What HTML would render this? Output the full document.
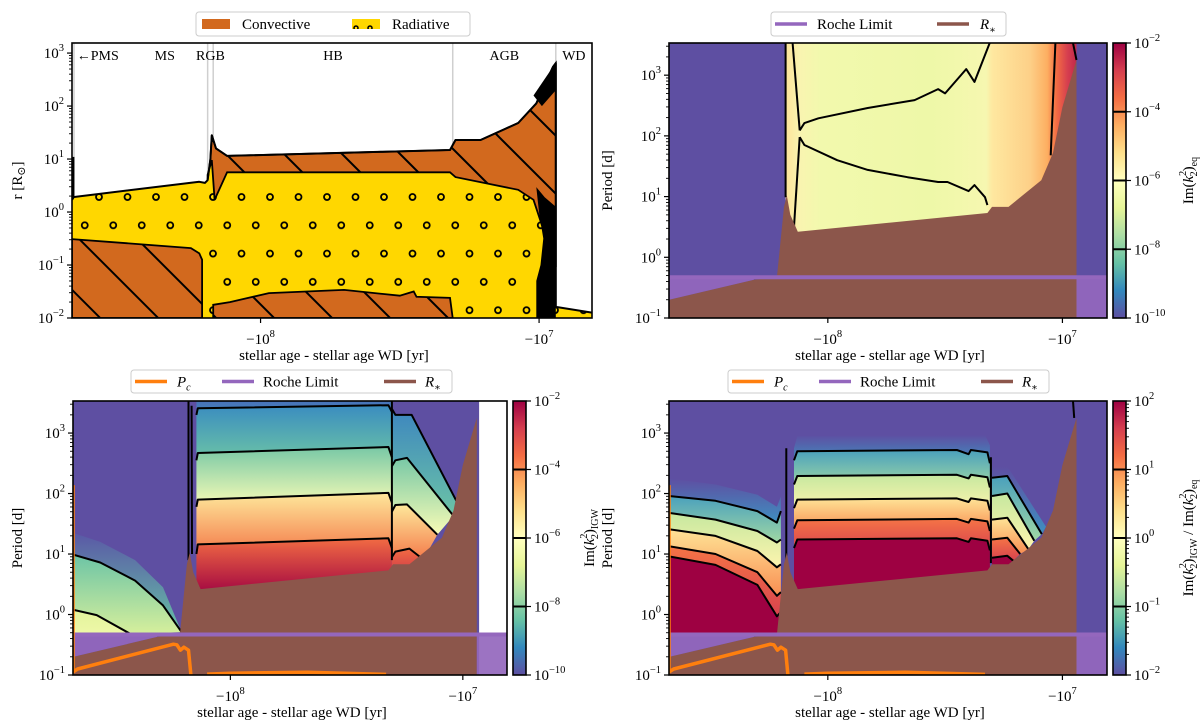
<!DOCTYPE html>
<html><head><meta charset="utf-8">
<style>
html,body{margin:0;padding:0;background:#fff;}
svg{display:block;font-family:"Liberation Serif","DejaVu Serif",serif;}
</style></head>
<body>
<svg id="fig" width="1200" height="727" viewBox="0 0 1200 727" xmlns="http://www.w3.org/2000/svg">
<defs id="defs">
  <pattern id="hatch" width="41" height="41" patternUnits="userSpaceOnUse" patternTransform="rotate(-45)">
    <line x1="10" y1="-5" x2="10" y2="46" stroke="#000" stroke-width="2"/>
  </pattern>
  <pattern id="dots" x="92" y="190" width="28.5" height="56.6" patternUnits="userSpaceOnUse">
    <circle cx="7" cy="7" r="3" fill="none" stroke="#000" stroke-width="1.8"/>
    <circle cx="21.25" cy="35.3" r="3" fill="none" stroke="#000" stroke-width="1.8"/>
  </pattern>
  <pattern id="dotsLeg" x="352" y="15" width="14" height="14" patternUnits="userSpaceOnUse">
    <circle cx="4" cy="13" r="2" fill="none" stroke="#000" stroke-width="1.5"/>
  </pattern>
  <linearGradient id="spectral" x1="0" y1="1" x2="0" y2="0">
    <stop offset="0" stop-color="#5e4fa2"/><stop offset="0.1" stop-color="#3288bd"/>
    <stop offset="0.2" stop-color="#66c2a5"/><stop offset="0.3" stop-color="#abdda4"/>
    <stop offset="0.4" stop-color="#e6f598"/><stop offset="0.5" stop-color="#ffffbf"/>
    <stop offset="0.6" stop-color="#fee08b"/><stop offset="0.7" stop-color="#fdae61"/>
    <stop offset="0.8" stop-color="#f46d43"/><stop offset="0.9" stop-color="#d53e4f"/>
    <stop offset="1" stop-color="#9e0142"/>
  </linearGradient>
  <linearGradient id="trGrad" x1="0" y1="0" x2="1" y2="0">
    <stop offset="0" stop-color="#fde49a"/><stop offset="0.05" stop-color="#f9f4b0"/>
    <stop offset="0.12" stop-color="#f2f9ad"/><stop offset="0.5" stop-color="#eef8a8"/>
    <stop offset="0.69" stop-color="#f6f7b0"/><stop offset="0.71" stop-color="#fee8a0"/>
    <stop offset="0.84" stop-color="#fdd088"/><stop offset="0.9" stop-color="#fdae61"/>
    <stop offset="0.93" stop-color="#f46d43"/><stop offset="0.97" stop-color="#d53e4f"/>
    <stop offset="1" stop-color="#c2294a"/>
  </linearGradient>
</defs>
</svg>
<script>
// ---------- data (x = log10 |age - age_WD| [yr], y = log10 value) ----------
const U_L = 8.677, U_R = 6.81;
const X_TICKS = [8, 7];
const X_TICK_LABELS = ['8', '7'];
const ROCHE = -0.33;
const WD_U = 6.94;
// top-left: radius structure
const TL_SURFACE = [[8.677,0.28],[8.22,0.57],[8.20,0.55],[8.19,0.6],[8.18,1.0],[8.175,1.45],[8.16,1.2],[8.12,1.06],[7.32,1.17],[7.30,1.36],[7.21,1.36],[7.075,1.68],[7.01,2.05],[6.95,2.74],[6.94,2.81],[6.94,-1.79],[6.81,-1.9]];
const TL_ENV_BASE = [[6.94,-1.04],[7.02,0.23],[7.075,0.42],[7.30,0.66],[7.32,0.75],[8.12,0.75],[8.165,0.23],[8.175,0.98],[8.19,0.7]];
const TL_CORE_MS = [[8.677,-0.51],[8.25,-0.68],[8.22,-0.78],[8.21,-0.9],[8.21,-2],[8.677,-2]];
const TL_CORE_HB = [[8.17,-2],[8.17,-1.75],[8.11,-1.70],[7.97,-1.53],[7.70,-1.47],[7.50,-1.58],[7.45,-1.5],[7.44,-1.6],[7.32,-1.62],[7.31,-2]];
const TL_BLACK1 = [[7.01,0.47],[6.98,0.28],[6.94,0.1],[6.94,-2],[7.01,-2],[7.01,-1.3],[6.995,-1.0],[6.985,-0.5],[7.0,-0.02]];
const TL_BLACK2 = [[7.02,2.2],[6.95,2.74],[6.94,2.81],[6.94,2.3],[6.99,2.0]];
const PHASE_BOUNDS = [8.19, 8.17, 7.31, 6.94];
const PHASE_NAMES = ['←PMS','MS','RGB','HB','AGB','WD'];
const PHASE_POS = [8.66, 8.344, 8.18, 7.74, 7.125, 6.875];
// shared period panels
const R_STAR = [[8.677,-0.70],[8.315,-0.37],[8.217,-0.33],[8.187,0.83],[8.175,1.02],[8.16,0.70],[8.128,0.42],[7.32,0.73],[7.30,0.83],[7.23,0.83],[7.09,1.27],[7.04,1.72],[7.00,2.47],[6.94,3.25],[6.94,-1]];
const PC_A = [[8.677,2.14],[8.677,-0.95],[8.657,-0.90],[8.245,-0.49],[8.23,-0.50],[8.215,-0.59],[8.20,-0.54],[8.18,-0.59],[8.17,-1.0]];
const PC_B = [[8.1,-0.985],[8.0,-0.97],[7.67,-0.955],[7.33,-0.99]];
// top-right contours
const TR_A = [[8.12,2.09],[8.10,2.21],[8.04,2.29],[7.83,2.46],[7.63,2.59],[7.53,2.77],[7.50,2.70],[7.41,3.10],[7.375,2.89],[7.31,3.53]];
const TR_B = [[8.12,1.98],[8.10,1.85],[7.96,1.60],[7.83,1.44],[7.66,1.32],[7.53,1.24],[7.49,1.24],[7.40,1.09],[7.375,1.19],[7.33,0.99],[7.32,0.86]];
const TR_C1 = [[8.18,3.53],[8.18,0.99]];
const TR_C2 = [[8.15,3.53],[8.12,2.09]];
const TR_C3 = [[8.12,1.98],[8.145,0.45]];
const TR_D1 = [[7.03,3.53],[7.05,1.68]];
const TR_D2 = [[6.955,3.53],[6.94,3.25]];
// bottom-left contours
const BL_LEFT_TOP = [[8.677,1.35],[8.56,1.2],[8.41,0.9],[8.29,0.45],[8.21,-0.29]];
const BL_LEFT_C1 = [[8.677,0.99],[8.56,0.86],[8.41,0.56],[8.29,0.15],[8.21,-0.29]];
const BL_LEFT_C2 = [[8.677,0.08],[8.575,-0.01],[8.43,-0.32]];
const BL_LEFT_BOT = [[8.677,-0.33],[8.21,-0.33]];
const BL_MID_TOP = [[8.146,3.53],[7.305,3.53]];
const BL_M1 = [[8.146,3.3],[8.14,3.41],[7.32,3.46],[7.305,3.35]];
const BL_M2 = [[8.146,2.55],[8.14,2.67],[7.32,2.77],[7.305,2.6]];
const BL_M3 = [[8.146,1.78],[8.14,1.90],[7.32,2.01],[7.305,1.85]];
const BL_M4 = [[8.146,1.0],[8.14,1.16],[7.32,1.26],[7.305,1.1]];
const BL_MID_BOT = [[8.146,0.3],[7.305,0.3]];
const BL_AGB_TOP = [[7.305,3.40],[7.29,3.30],[7.22,3.30],[7.02,1.82]];
const BL_N1 = [[7.305,2.45],[7.29,2.55],[7.24,2.59],[7.04,1.63]];
const BL_N2 = [[7.305,1.7],[7.29,1.81],[7.24,1.82],[7.11,1.32]];
const BL_N3 = [[7.305,0.95],[7.29,1.04],[7.23,1.09],[7.17,0.91]];
const BL_AGB_BOT = [[7.305,0.5],[7.17,0.5]];
// bottom-right contours
const BR_L_TOP = [[8.677,2.25],[8.479,2.15],[8.30,1.98],[8.217,1.78],[8.20,1.95]];
const BR_L1 = [[8.677,1.96],[8.479,1.88],[8.30,1.71],[8.217,1.52],[8.20,1.71]];
const BR_L2 = [[8.677,1.68],[8.479,1.57],[8.30,1.38],[8.217,1.19],[8.20,1.24]];
const BR_L3 = [[8.677,1.41],[8.479,1.30],[8.30,1.05],[8.217,0.78],[8.20,0.83]];
const BR_L4 = [[8.677,1.13],[8.479,1.0],[8.30,0.70],[8.217,0.31],[8.20,0.37]];
const BR_L5 = [[8.677,0.96],[8.479,0.82],[8.30,0.49],[8.217,-0.03],[8.20,0.04]];
const BR_L_BOT = [[8.677,-0.33],[8.20,-0.33]];
const BR_M_TOP = [[8.144,2.75],[8.13,2.95],[7.33,2.97],[7.309,2.8]];
const BR_M1 = [[8.144,2.55],[8.13,2.70],[7.45,2.72],[7.40,2.65],[7.39,2.72],[7.32,2.68],[7.309,2.5]];
const BR_M2 = [[8.144,2.15],[8.13,2.29],[7.45,2.31],[7.40,2.25],[7.39,2.31],[7.32,2.27],[7.309,2.1]];
const BR_M3 = [[8.144,1.76],[8.13,1.90],[7.45,1.92],[7.40,1.86],[7.39,1.92],[7.32,1.88],[7.309,1.72]];
const BR_M4 = [[8.144,1.42],[8.13,1.56],[7.45,1.58],[7.40,1.52],[7.39,1.58],[7.32,1.54],[7.309,1.38]];
const BR_M5 = [[8.144,1.10],[8.13,1.24],[7.45,1.26],[7.40,1.20],[7.39,1.26],[7.32,1.22],[7.309,1.06]];
const BR_M_BOT = [[8.144,0.3],[7.309,0.3]];
const BR_A_TOP = [[7.30,2.45],[7.235,2.45],[7.07,1.45]];
const BR_N1 = [[7.30,2.26],[7.235,2.29],[7.088,1.33]];
const BR_N2 = [[7.30,1.96],[7.235,2.0],[7.12,1.22]];
const BR_N3 = [[7.30,1.57],[7.235,1.60],[7.145,1.08]];
const BR_N4 = [[7.30,1.24],[7.235,1.27],[7.18,1.0]];
const BR_N5 = [[7.30,0.94],[7.235,0.97],[7.21,0.89]];
const BR_A_BOT = [[7.30,0.5],[7.21,0.5]];
// colorbars
const CB_TR_EXP = [-2,-4,-6,-8,-10];
const CB_BL_EXP = [-2,-4,-6,-8,-10];
const CB_BR_EXP = [2,1,0,-1,-2];

// ---------- helpers ----------
const NS = 'http://www.w3.org/2000/svg';
const svg = document.getElementById('fig');
const defs = document.getElementById('defs');
function mk(tag, attrs, parent) {
  const e = document.createElementNS(NS, tag);
  for (const k in attrs) e.setAttribute(k, attrs[k]);
  (parent || svg).appendChild(e);
  return e;
}
function sx(p, u) { return p.x0 + (U_L - u) / (U_L - U_R) * (p.x1 - p.x0); }
function sy(p, l) { return p.y0 + (p.yT - l) / (p.yT - p.yB) * (p.y1 - p.y0); }
function pts(p, arr) { return arr.map(a => sx(p, a[0]).toFixed(1) + ',' + sy(p, a[1]).toFixed(1)).join(' '); }
let gid = 0;
function vgrad(c1, c2) {
  const id = 'g' + (gid++);
  const g = mk('linearGradient', {id: id, x1: 0, y1: 0, x2: 0, y2: 1}, defs);
  mk('stop', {offset: 0, 'stop-color': c1}, g);
  mk('stop', {offset: 1, 'stop-color': c2}, g);
  return 'url(#' + id + ')';
}
function band(p, g, up, lo, c1, c2, name) {
  const e = mk('polygon', {points: pts(p, up.concat(lo.slice().reverse())), fill: vgrad(c1, c2)}, g);
  
  
  return e;
}
function pline(p, g, arr, color, w, name) {
  const e = mk('polyline', {points: pts(p, arr), fill: 'none', stroke: color, 'stroke-width': w, 'stroke-linejoin': 'round'}, g);
  
  
  return e;
}
function ppoly(p, g, arr, fill, name) {
  const e = mk('polygon', {points: pts(p, arr), fill: fill}, g);
  
  
  return e;
}
function powText(parent, x, y, exp, anchor, pre) {
  const t = mk('text', {x: x, y: y, 'font-size': 15, 'text-anchor': anchor, fill: '#000'}, parent);
  t.appendChild(document.createTextNode((pre || '') + '10'));
  const s = mk('tspan', {dy: -7, 'font-size': 10.5}, t);
  s.textContent = String(exp).replace('-', '−');
  return t;
}
function panelGroup(name) {
  const g = mk('g', {});
  
  
  return g;
}
function clipFor(p) {
  const id = 'c' + (gid++);
  const c = mk('clipPath', {id: id}, defs);
  mk('rect', {x: p.x0, y: p.y0, width: p.x1 - p.x0, height: p.y1 - p.y0}, c);
  return 'url(#' + id + ')';
}
function axes(p, g, ylabel) {
  const fr = mk('rect', {x: p.x0, y: p.y0, width: p.x1 - p.x0, height: p.y1 - p.y0, fill: 'none', stroke: '#000', 'stroke-width': 1.6}, g);
  
  
  const yt = mk('g', {}, g);
  
  
  for (let d = Math.ceil(p.yB); d <= Math.floor(p.yT); d++) {
    const y = sy(p, d);
    mk('line', {x1: p.x0 - 5, x2: p.x0, y1: y, y2: y, stroke: '#000', 'stroke-width': 1.2}, yt);
    powText(yt, p.x0 - 8, y + 5, d, 'end');
  }
  for (let d = Math.floor(p.yB); d <= Math.ceil(p.yT); d++) {
    for (let k = 2; k <= 9; k++) {
      const l = d + Math.log10(k);
      if (l <= p.yB || l >= p.yT) continue;
      const y = sy(p, l);
      mk('line', {x1: p.x0 - 3, x2: p.x0, y1: y, y2: y, stroke: '#000', 'stroke-width': 0.9}, yt);
    }
  }
  const xt = mk('g', {}, g);
  
  
  X_TICKS.forEach((u, i) => {
    const x = sx(p, u);
    mk('line', {x1: x, x2: x, y1: p.y1, y2: p.y1 + 5, stroke: '#000', 'stroke-width': 1.2}, xt);
    powText(xt, x, p.y1 + 26, X_TICK_LABELS[i], 'middle', '−');
  });
  const xl = mk('text', {x: (p.x0 + p.x1) / 2 + 2, y: p.y1 + 42, 'font-size': 15, 'text-anchor': 'middle'}, g);
  xl.textContent = 'stellar age - stellar age WD [yr]';
  
  
  const yl = mk('text', {x: 0, y: 0, 'font-size': 15, 'text-anchor': 'middle', transform: 'translate(' + p.ylx + ',' + ((p.y0 + p.y1) / 2) + ') rotate(-90)'}, g);
  yl.innerHTML = ylabel;
  
  
}
function colorbar(g, x, y0, y1, exps, minor, labelHtml, lx, name) {
  const cg = mk('g', {}, g);
  
  
  mk('rect', {x: x, y: y0, width: 13, height: y1 - y0, fill: 'url(#spectral)', stroke: '#000', 'stroke-width': 1.6}, cg);
  const n = exps.length - 1;
  exps.forEach((e, i) => {
    const y = y0 + i / n * (y1 - y0);
    if (i > 0 && i < n) mk('line', {x1: x, x2: x + 13, y1: y, y2: y, stroke: '#000', 'stroke-width': 2}, cg);
    mk('line', {x1: x + 13, x2: x + 18, y1: y, y2: y, stroke: '#000', 'stroke-width': 1.2}, cg);
    powText(cg, x + 21, y + 5, e, 'start');
    if (minor && i < n) {
      for (let k = 2; k <= 9; k++) {
        const yy = y + (1 - Math.log10(k)) / n * (y1 - y0);
        mk('line', {x1: x + 13, x2: x + 16, y1: yy, y2: yy, stroke: '#000', 'stroke-width': 0.9}, cg);
      }
    }
  });
  const t = mk('text', {x: 0, y: 0, 'font-size': 15, 'text-anchor': 'middle', transform: 'translate(' + lx + ',' + ((y0 + y1) / 2) + ') rotate(-90)'}, cg);
  t.innerHTML = labelHtml;
}
function legend(g, x, y, w, h, items, name) {
  const lg = mk('g', {}, g);
  
  
  mk('rect', {x: x, y: y, width: w, height: h, rx: 3, fill: '#fff', stroke: '#cccccc', 'stroke-width': 1}, lg);
  items.forEach(it => {
    if (it.patch) {
      mk('rect', {x: it.x, y: y + 7, width: 28, height: 10, fill: it.color}, lg);
      if (it.over) mk('rect', {x: it.x, y: y + 7, width: 28, height: 10, fill: it.over}, lg);
    } else {
      mk('line', {x1: it.x, x2: it.x + 32, y1: y + h / 2, y2: y + h / 2, stroke: it.color, 'stroke-width': 3.5}, lg);
    }
    const t = mk('text', {x: it.tx, y: y + h / 2 + 5, 'font-size': 15}, lg);
    t.innerHTML = it.label;
  });
}
const K2 = '<tspan>Im(</tspan><tspan font-style="italic">k</tspan><tspan font-size="10" dy="-7">2</tspan><tspan font-size="10" dx="-5.5" dy="11">2</tspan><tspan dy="-4">)</tspan>';
const RS = '<tspan font-style="italic">R</tspan><tspan font-size="10" dy="4">∗</tspan>';
const PCL = '<tspan font-style="italic">P</tspan><tspan font-size="10" font-style="italic" dy="4">c</tspan>';

function periodCommon(p, g) {
  ppoly(p, g, R_STAR.concat([[U_L, -1.1]]), '#8c564b', 'stellar-radius-fill');
  const leftP = [[U_L, ROCHE]].concat(R_STAR.filter(a => a[0] >= 8.315)).concat([[8.315, ROCHE]]);
  ppoly(p, g, leftP, '#9467bd', 'roche-fill-left').setAttribute('opacity', '0.92');
  ppoly(p, g, [[WD_U, ROCHE], [U_R, ROCHE], [U_R, -1.1], [WD_U, -1.1]], '#9467bd', 'roche-fill-right').setAttribute('opacity', '0.92');
  pline(p, g, [[U_L, ROCHE], [U_R, ROCHE]], '#9467bd', 4, 'roche-limit-line');
}

// ---------- panel: top-left ----------
(function () {
  const p = {x0: 72, x1: 592, y0: 43, y1: 318, yT: 3.19, yB: -2, ylx: 22};
  const g = panelGroup('structure-panel');
  const c = mk('g', {'clip-path': clipFor(p)}, g);
  PHASE_BOUNDS.forEach(u => {
    const e = mk('line', {x1: sx(p, u), x2: sx(p, u), y1: p.y0, y2: p.y1, stroke: '#cfcfcf', 'stroke-width': 1.5}, c);
    
    
  });
  mk('line', {x1: p.x0 + 2, x2: p.x0 + 2, y1: p.y0, y2: p.y1, stroke: '#cfcfcf', 'stroke-width': 1.5}, c);
  const surfPoly = TL_SURFACE.concat([[U_R, -2.1], [U_L, -2.1]]);
  ppoly(p, c, surfPoly, '#ffd700', 'radiative-zone');
  ppoly(p, c, surfPoly, 'url(#dots)', 'radiative-hatch');
  const env = TL_SURFACE.slice(3, 15).concat(TL_ENV_BASE);
  [[env, 'convective-envelope'], [TL_CORE_MS, 'convective-core-ms'], [TL_CORE_HB, 'convective-core-hb']].forEach(a => {
    ppoly(p, c, a[0], '#d2691e', a[1]);
    const h = ppoly(p, c, a[0], 'url(#hatch)', a[1] + '-hatch');
    h.setAttribute('stroke', '#000');
    h.setAttribute('stroke-width', '1.8');
  });
  ppoly(p, c, TL_BLACK1, '#000', 'thermal-pulse-region');
  ppoly(p, c, TL_BLACK2, '#000', 'thermal-pulse-envelope');
  pline(p, c, TL_SURFACE, '#000', 2, 'stellar-surface-line');
  pline(p, c, [[U_L - 0.005, 0.28], [U_L - 0.005, 1.04]], '#000', 2, 'pms-edge');
  PHASE_NAMES.forEach((nm, i) => {
    const t = mk('text', {x: sx(p, PHASE_POS[i]), y: 60, 'font-size': 14, 'text-anchor': i === 0 ? 'start' : 'middle'}, g);
    t.textContent = nm;
    
    
  });
  axes(p, g, 'r [R<tspan font-size="11" dy="3">⊙</tspan><tspan dy="-3">]</tspan>');
  legend(g, 196, 12, 274, 24, [
    {patch: true, x: 202, color: '#d2691e', tx: 242, label: 'Convective'},
    {patch: true, x: 352, color: '#ffd700', over: 'url(#dotsLeg)', tx: 392, label: 'Radiative'}], 'legend-structure');
})();

// ---------- panel: top-right ----------
(function () {
  const p = {x0: 669, x1: 1107, y0: 43, y1: 318, yT: 3.53, yB: -1, ylx: 612};
  const g = panelGroup('im-k2-eq-panel');
  const c = mk('g', {'clip-path': clipFor(p)}, g);
  mk('rect', {x: p.x0, y: p.y0, width: p.x1 - p.x0, height: p.y1 - p.y0, fill: '#5e4fa2'}, c);
  const r = mk('rect', {x: sx(p, 8.18), y: p.y0, width: sx(p, WD_U) - sx(p, 8.18), height: p.y1 - p.y0, fill: 'url(#trGrad)'}, c);
  
  
  [TR_A, TR_B, TR_C1, TR_C2, TR_C3, TR_D1, TR_D2].forEach(a => pline(p, c, a, '#000', 2, 'contour-line'));
  periodCommon(p, c);
  axes(p, g, 'Period [d]');
  colorbar(g, 1113, 43, 318, CB_TR_EXP, false, K2 + '<tspan font-size="10" dy="4">eq</tspan>', 1193, 'colorbar-eq');
  legend(g, 771, 12, 235, 24, [
    {x: 775, color: '#9467bd', tx: 817, label: 'Roche Limit'},
    {x: 937, color: '#8c564b', tx: 980, label: RS}], 'legend-roche');
})();

// ---------- panel: bottom-left ----------
(function () {
  const p = {x0: 73, x1: 507, y0: 401, y1: 675, yT: 3.53, yB: -1, ylx: 22};
  const g = panelGroup('im-k2-igw-panel');
  const c = mk('g', {'clip-path': clipFor(p)}, g);
  mk('rect', {x: p.x0, y: p.y0, width: sx(p, 6.93) - p.x0, height: p.y1 - p.y0, fill: '#5e4fa2'}, c);
  band(p, c, BL_LEFT_TOP, BL_LEFT_C1, '#5a58a6', '#66c2a5', 'igw-band');
  band(p, c, BL_LEFT_C1, BL_LEFT_C2, '#6cc4a6', '#d6ef9c', 'igw-band');
  band(p, c, BL_LEFT_C2, BL_LEFT_BOT, '#e2f39b', '#eef8a8', 'igw-band');
  band(p, c, BL_MID_TOP, BL_M1, '#4a72b8', '#3d86bf', 'igw-band');
  band(p, c, BL_M1, BL_M2, '#3a8cc0', '#6cc4a6', 'igw-band');
  band(p, c, BL_M2, BL_M3, '#78c8a6', '#f8fcb6', 'igw-band');
  band(p, c, BL_M3, BL_M4, '#fee89b', '#f47a4a', 'igw-band');
  band(p, c, BL_M4, BL_MID_BOT, '#f26b43', '#9e0142', 'igw-band');
  band(p, c, BL_AGB_TOP, BL_N1, '#3d86bf', '#6cc4a6', 'igw-band');
  band(p, c, BL_N1, BL_N2, '#78c8a6', '#f8fcb6', 'igw-band');
  band(p, c, BL_N2, BL_N3, '#fee89b', '#f47a4a', 'igw-band');
  band(p, c, BL_N3, BL_AGB_BOT, '#f26b43', '#c0284a', 'igw-band');
  [BL_LEFT_C1, BL_LEFT_C2, BL_M1, BL_M2, BL_M3, BL_M4, BL_AGB_TOP, BL_N1, BL_N2, BL_N3,
   [[8.18, 3.53], [8.18, 0.9]], [[8.167, 3.45], [8.165, 1.0]], [[7.305, 3.53], [7.305, 0.9]]].forEach(a => pline(p, c, a, '#000', 2, 'contour-line'));
  periodCommon(p, c);
  pline(p, c, PC_A, '#ff7f0e', 3.5, 'pc-line');
  pline(p, c, PC_B, '#ff7f0e', 3.5, 'pc-line');
  axes(p, g, 'Period [d]');
  colorbar(g, 513, 401, 675, CB_BL_EXP, false, K2 + '<tspan font-size="10" dy="4">IGW</tspan>', 594, 'colorbar-igw');
  legend(g, 131, 370, 321, 23, [
    {x: 135, color: '#ff7f0e', tx: 177, label: PCL},
    {x: 222, color: '#9467bd', tx: 263, label: 'Roche Limit'},
    {x: 384, color: '#8c564b', tx: 425, label: RS}], 'legend-igw');
})();

// ---------- panel: bottom-right ----------
(function () {
  const p = {x0: 669, x1: 1107, y0: 401, y1: 675, yT: 3.53, yB: -1, ylx: 612};
  const g = panelGroup('ratio-panel');
  const c = mk('g', {'clip-path': clipFor(p)}, g);
  mk('rect', {x: p.x0, y: p.y0, width: p.x1 - p.x0, height: p.y1 - p.y0, fill: '#5e4fa2'}, c);
  const cols = [['#5e4fa2', '#3f8fc0'], ['#4aa0bd', '#a0d8a4'], ['#c6e89f', '#fdf4ae'], ['#fee396', '#f98e52'], ['#f57446', '#d8434e'], ['#9e0142', '#9e0142']];
  [[BR_L_TOP, BR_L1, BR_L2, BR_L3, BR_L4, BR_L5, BR_L_BOT],
   [BR_M_TOP, BR_M1, BR_M2, BR_M3, BR_M4, BR_M5, BR_M_BOT],
   [BR_A_TOP, BR_N1, BR_N2, BR_N3, BR_N4, BR_N5, BR_A_BOT]].forEach(set => {
    for (let i = 0; i < 6; i++) band(p, c, set[i], set[i + 1], cols[i][0], cols[i][1], 'ratio-band');
    for (let i = 1; i < 6; i++) pline(p, c, set[i], '#000', 2, 'contour-line');
  });
  pline(p, c, [[8.177, 2.75], [8.177, 0.78]], '#000', 2, 'contour-line');
  pline(p, c, [[7.305, 2.6], [7.305, 0.85]], '#000', 2, 'contour-line');
  pline(p, c, [[6.955, 3.53], [6.95, 3.25]], '#000', 2, 'contour-line');
  periodCommon(p, c);
  pline(p, c, PC_A, '#ff7f0e', 3.5, 'pc-line');
  pline(p, c, PC_B, '#ff7f0e', 3.5, 'pc-line');
  axes(p, g, 'Period [d]');
  colorbar(g, 1113, 401, 675, CB_BR_EXP, true, K2 + '<tspan font-size="10" dy="4">IGW</tspan><tspan dy="-4"> / </tspan>' + K2 + '<tspan font-size="10" dy="4">eq</tspan>', 1193, 'colorbar-ratio');
  legend(g, 728, 370, 321, 23, [
    {x: 732, color: '#ff7f0e', tx: 774, label: PCL},
    {x: 819, color: '#9467bd', tx: 860, label: 'Roche Limit'},
    {x: 981, color: '#8c564b', tx: 1022, label: RS}], 'legend-ratio');
})();
</script>
</body></html>
